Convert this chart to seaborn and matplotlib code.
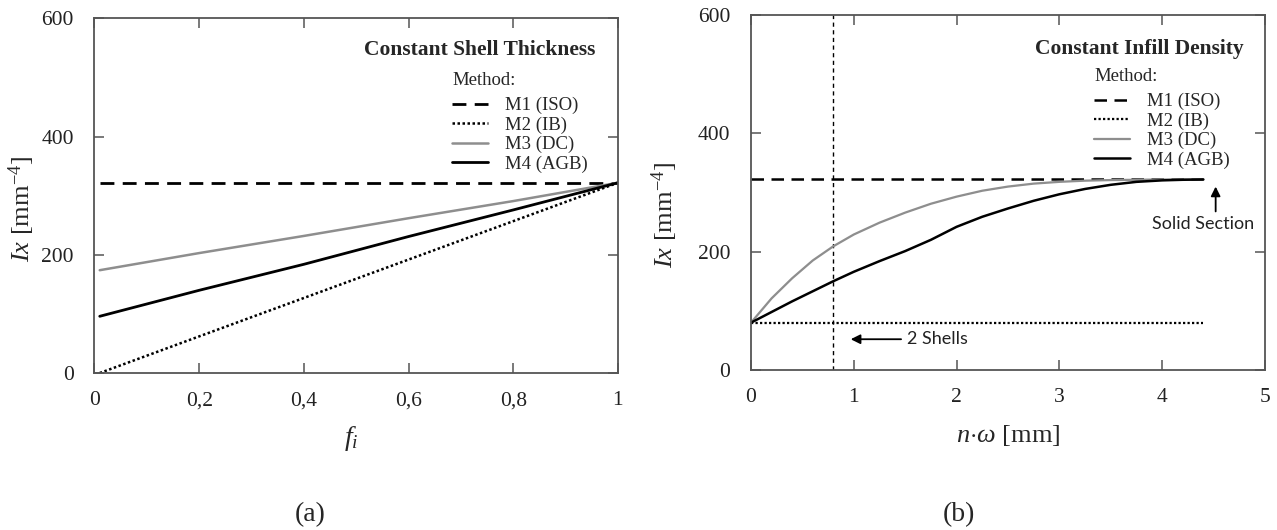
import matplotlib
matplotlib.use("Agg")
import matplotlib.pyplot as plt
import seaborn as sns

# ---------------- data ----------------
# (a) Constant shell thickness
fi = [0.01, 0.2, 0.4, 0.6, 0.8, 1.0]
a_m1 = [322, 322, 322, 322, 322, 322]
a_m2 = [0, 62, 127, 192, 257, 322]
a_m3 = [174, 203, 232, 262, 291, 322]
a_m4 = [96, 140, 184, 231, 276, 322]

# (b) Constant infill density
nw = [0, 0.2, 0.4, 0.6, 0.8, 1.0, 1.25, 1.5, 1.75, 2.0, 2.25, 2.5, 2.75,
      3.0, 3.25, 3.5, 3.75, 4.0, 4.2, 4.4]
b_m1 = [322] * 20
b_m2 = [80] * 20
b_m3 = [80, 121, 155, 185, 209, 229, 249, 266, 281, 293, 303, 310, 315,
        318, 320, 321, 321.5, 322, 322, 322]
b_m4 = [80, 98, 116, 133, 150, 166, 184, 201, 220, 242, 259, 273, 286,
        297, 306, 313, 318, 320.5, 321.5, 322]

methods = ["M1 (ISO)", "M2 (IB)", "M3 (DC)", "M4 (AGB)"]
a_xticks = [0, 0.2, 0.4, 0.6, 0.8, 1.0]
a_xticklabels = ["0", "0,2", "0,4", "0,6", "0,8", "1"]
b_xticks = [0, 1, 2, 3, 4, 5]
yticks = [0, 200, 400, 600]
shells_x = 0.8

# ---------------- style ----------------
sns.set_theme(style="ticks")
plt.rcParams["font.family"] = ["Liberation Serif", "DejaVu Serif"]
plt.rcParams["mathtext.fontset"] = "custom"
plt.rcParams["mathtext.rm"] = "Liberation Serif"
plt.rcParams["mathtext.it"] = "Liberation Serif:italic"
plt.rcParams["mathtext.bf"] = "Liberation Serif:bold"

fig = plt.figure(figsize=(12.77, 5.30), dpi=100)
ax1 = fig.add_axes([0.0740, 0.2962, 0.4099, 0.6689])
ax2 = fig.add_axes([0.5881, 0.3019, 0.4025, 0.6698])

styles = {
    "M1 (ISO)": dict(color="black", lw=2.0, dashes=(5, 3)),
    "M2 (IB)": dict(color="black", lw=1.8, dashes=(1, 1)),
    "M3 (DC)": dict(color="#8e8e8e", lw=1.8, dashes=None),
    "M4 (AGB)": dict(color="black", lw=2.0, dashes=None),
}

def draw(ax, x, ys, lwscale=1.0):
    for name, y in zip(methods, ys):
        st = styles[name]
        sns.lineplot(x=x, y=y, ax=ax, color=st["color"], lw=st["lw"] * lwscale,
                     label=name, estimator=None, sort=False)
        line = ax.lines[-1]
        if st["dashes"] is not None:
            line.set_dashes(st["dashes"])

draw(ax1, fi, [a_m1, a_m2, a_m3, a_m4])
draw(ax2, nw, [b_m1, b_m2, b_m3, b_m4], lwscale=0.9)
ax2.axvline(shells_x, color="black", lw=1.0, dashes=(3, 2.5), zorder=1)

for ax in (ax1, ax2):
    ax.set_ylim(0, 600)
    ax.set_yticks(yticks)
    ax.tick_params(direction="in", length=7, width=1.1, color="#555555",
                   top=True, right=True, labelsize=15.5, labelcolor="#222222")
    ax.tick_params(axis="y", pad=15)
    ax.tick_params(axis="x", pad=13)
    for sp in ax.spines.values():
        sp.set_visible(True)
        sp.set_color("#555555")
        sp.set_linewidth(1.3)

ax1.set_xlim(0, 1)
ax1.set_xticks(a_xticks)
ax1.set_xticklabels(a_xticklabels)
ax2.set_xlim(0, 5)
ax2.set_xticks(b_xticks)

# axis labels
ax1.set_ylabel(r"$\mathit{Ix}$ [mm$^{-4}$]", fontsize=19)
ax1.yaxis.set_label_coords(-0.11, 0.463)
ax1.set_xlabel(r"$f_i$", fontsize=20)
ax1.xaxis.set_label_coords(0.49, -0.145)
ax2.set_ylabel(r"$\mathit{Ix}$ [mm$^{-4}$]", fontsize=19)
ax2.yaxis.set_label_coords(-0.138, 0.437)
ax2.set_xlabel(r"$n{\cdot}\omega$ [mm]", fontsize=19)
ax2.xaxis.set_label_coords(0.50, -0.15)

# panel titles
ax1.text(0.956, 0.91, "Constant Shell Thickness", transform=ax1.transAxes,
         ha="right", va="center", fontsize=15.5, fontweight="bold")
ax2.text(0.959, 0.903, "Constant Infill Density", transform=ax2.transAxes,
         ha="right", va="center", fontsize=15.5, fontweight="bold")

# legends
for ax, xa, ya in ((ax1, 0.683, 0.85), (ax2, 0.668, 0.852)):
    leg = ax.legend(title="Method:", loc="upper left", bbox_to_anchor=(xa, ya),
                    frameon=False, fontsize=13.5, title_fontsize=13.5,
                    handlelength=1.9, handletextpad=0.9, labelspacing=0.12,
                    borderpad=0, borderaxespad=0)
    leg._legend_box.align = "left"
    leg._legend_box.sep = 6

# annotations
ax2.annotate("", xy=(0.97, 52), xytext=(1.46, 52),
             arrowprops=dict(arrowstyle="-|>", color="black", lw=1.3,
                             mutation_scale=14, shrinkA=0, shrinkB=0))
ax2.text(1.52, 52, "2 Shells", fontsize=13, va="center", ha="left",
         family=["Lato", "DejaVu Sans"], color="#222222")
ax2.annotate("", xy=(4.52, 310), xytext=(4.52, 268),
             arrowprops=dict(arrowstyle="-|>", color="black", lw=1.3,
                             mutation_scale=14, shrinkA=0, shrinkB=0))
ax2.text(4.40, 246, "Solid Section", fontsize=13, va="center", ha="center",
         family=["Lato", "DejaVu Sans"], color="#222222")

# panel letters
fig.text(310 / 1277, 1 - 515 / 530, "(a)", fontsize=20, ha="center", va="center")
fig.text(959 / 1277, 1 - 515 / 530, "(b)", fontsize=20, ha="center", va="center")

fig.savefig("out.png", dpi=100)
